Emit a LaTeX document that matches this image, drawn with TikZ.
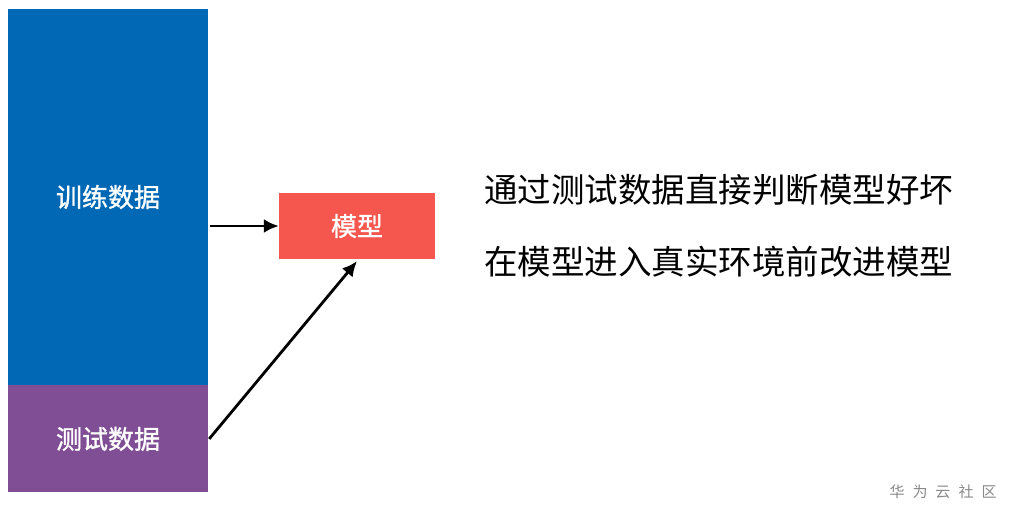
\documentclass[tikz,border=0pt]{standalone}
\usepackage{fontspec}
\setmainfont{Noto Sans CJK SC}
\newfontfamily\labelfont{Noto Sans CJK SC}[FakeBold=1.2]
\usetikzlibrary{arrows.meta,positioning}
\definecolor{trainblue}{HTML}{0068B5}
\definecolor{testpurple}{HTML}{7F4E94}
\definecolor{modelred}{HTML}{F5574F}
\definecolor{markgray}{HTML}{8A8A8A}
\tikzset{
  block/.style={draw=none,inner sep=0pt,align=center,text=white,font=\labelfont\fontsize{26}{30}\selectfont},
  arrow/.style={-{Latex[length=15pt,width=14pt]},line width=2.8pt,draw=black},
  remark/.style={anchor=west,inner sep=0pt,font=\fontsize{33.5}{38}\selectfont}
}
\begin{document}
\begin{tikzpicture}[x=1pt,y=1pt]
\useasboundingbox[fill=white] (0,0) rectangle (1010,-517);
\node[block,fill=trainblue,minimum width=200pt,minimum height=376pt] (train) at (108,-197) {训练数据};
\node[block,fill=testpurple,minimum width=200pt,minimum height=107pt,below=0pt of train] (test) {测试数据};
\node[block,fill=modelred,minimum width=156pt,minimum height=66pt] (model) at (357,-226) {模型};
\draw[arrow] ([xshift=2pt]train.east |- model.west) -- (model.west);
\draw[arrow] ([xshift=1pt]test.east) -- ([yshift=-2pt]model.south);
\node[remark] (line1) at (484,-190) {通过测试数据直接判断模型好坏};
\node[remark] (line2) at (484,-262) {在模型进入真实环境前改进模型};
\node[inner sep=0pt,text=markgray,font=\fontsize{15}{18}\selectfont] (mark) at (943,-492) {华\hspace{8pt}为\hspace{8pt}云\hspace{8pt}社\hspace{8pt}区};
\end{tikzpicture}
\end{document}
